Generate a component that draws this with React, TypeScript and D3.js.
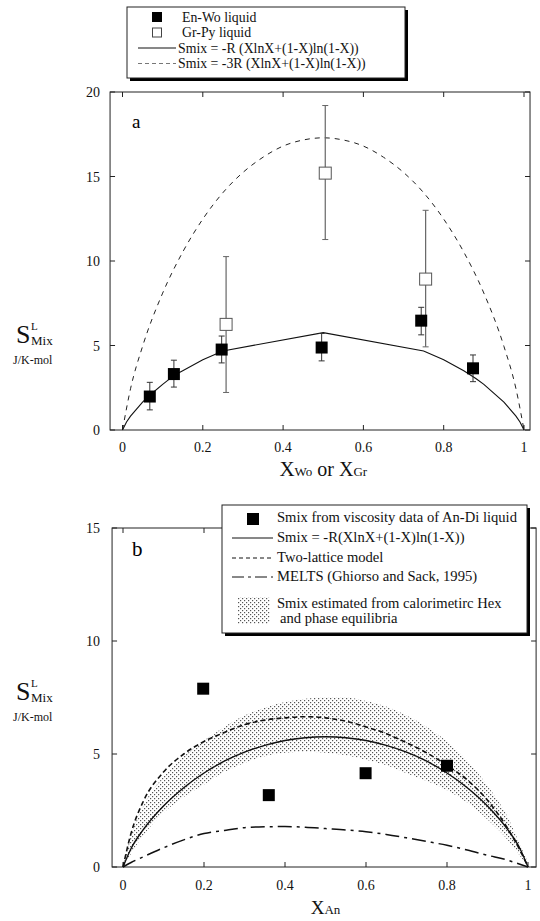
import React from "react";
import * as d3 from "d3";

// ---- panel a data ----
const enWoX = [0.068, 0.128, 0.247, 0.496, 0.744, 0.873];
const enWoY = [1.98, 3.31, 4.76, 4.88, 6.47, 3.65];
const enWoLo = [1.19, 2.54, 3.97, 4.09, 5.63, 2.86];
const enWoHi = [2.82, 4.13, 5.56, 5.71, 7.26, 4.44];

const grPyX = [0.258, 0.505, 0.755];
const grPyY = [6.25, 15.2, 8.93];
const grPyLo = [2.22, 11.27, 4.92];
const grPyHi = [10.26, 19.2, 13.0];

// ideal mixing curve as drawn (coarse polyline in the middle)
const idealAX = [0, 0.01, 0.02, 0.05, 0.07, 0.1, 0.13, 0.15, 0.2, 0.25, 0.5, 0.75, 0.8, 0.85, 0.88, 0.9, 0.95, 0.98, 0.99, 1];
const idealAY = [0, 0.47, 0.82, 1.65, 2.10, 2.70, 3.26, 3.51, 4.16, 4.68, 5.76, 4.68, 4.16, 3.51, 3.05, 2.70, 1.65, 0.82, 0.47, 0];

const threeRX = [0, 0.02, 0.05, 0.1, 0.15, 0.2, 0.25, 0.3, 0.35, 0.4, 0.45, 0.5, 0.55, 0.6, 0.65, 0.7, 0.75, 0.8, 0.85, 0.9, 0.95, 0.98, 1];
const threeRY = [0, 2.44, 4.95, 8.10, 10.53, 12.48, 14.04, 15.24, 16.14, 16.80, 17.16, 17.29, 17.16, 16.80, 16.14, 15.24, 14.04, 12.48, 10.53, 8.10, 4.95, 2.44, 0];

// ---- panel b data ----
const anDiX = [0.198, 0.36, 0.599, 0.8];
const anDiY = [7.89, 3.18, 4.15, 4.48];

const curveBX = [0, 0.02, 0.05, 0.1, 0.15, 0.2, 0.25, 0.3, 0.35, 0.4, 0.45, 0.5, 0.55, 0.6, 0.65, 0.7, 0.75, 0.8, 0.85, 0.9, 0.95, 0.98, 1];
const idealBY = [0, 0.82, 1.65, 2.70, 3.51, 4.16, 4.68, 5.08, 5.38, 5.60, 5.72, 5.76, 5.72, 5.60, 5.38, 5.08, 4.68, 4.16, 3.51, 2.70, 1.65, 0.82, 0];
const latticeY = [0, 1.5, 2.9, 4.2, 5.0, 5.55, 5.95, 6.3, 6.5, 6.6, 6.65, 6.6, 6.45, 6.2, 5.9, 5.5, 5.05, 4.5, 3.85, 2.95, 1.7, 0.75, 0];
const meltsY = [0, 0.2, 0.45, 0.85, 1.2, 1.48, 1.62, 1.74, 1.78, 1.79, 1.76, 1.7, 1.64, 1.56, 1.44, 1.29, 1.13, 0.96, 0.75, 0.52, 0.3, 0.12, 0];
const bandHi = [0, 1.4, 2.7, 4.0, 4.9, 5.6, 6.2, 6.7, 7.05, 7.3, 7.45, 7.5, 7.5, 7.35, 7.1, 6.7, 6.2, 5.55, 4.7, 3.6, 2.2, 1.0, 0.2];
const bandLo = [0, 0.6, 1.4, 2.4, 3.1, 3.65, 4.2, 4.6, 4.9, 5.05, 5.1, 5.05, 4.95, 4.75, 4.5, 4.15, 3.8, 3.4, 2.85, 2.1, 1.2, 0.5, 0];

const xTicks = [0, 0.2, 0.4, 0.6, 0.8, 1];
const yTicksA = [0, 5, 10, 15, 20];
const yTicksB = [0, 5, 10, 15];

const FONT = "Liberation Serif, Times New Roman, serif";

const xA = d3.scaleLinear().domain([0, 1]).range([122.5, 524]);
const yA = d3.scaleLinear().domain([0, 20]).range([430, 92]);
const xB = d3.scaleLinear().domain([0, 1]).range([123, 528]);
const yB = d3.scaleLinear().domain([0, 15]).range([867, 528]);

const Frame = ({ x, y, x0, x1, ticksY }: any) => {
  const L = x(x0), R = x(x1), T = y(y.domain()[1]), B = y(0);
  const tl = 5;
  return (
    <g stroke="#222" strokeWidth={1} fill="none">
      <rect x={L} y={T} width={R - L} height={B - T} />
      {xTicks.map((t) => (
        <g key={"x" + t}>
          <line x1={x(t)} x2={x(t)} y1={B} y2={B - tl} />
          <line x1={x(t)} x2={x(t)} y1={T} y2={T + tl} />
        </g>
      ))}
      {ticksY.map((t: number) => (
        <g key={"y" + t}>
          <line x1={L} x2={L + tl} y1={y(t)} y2={y(t)} />
          <line x1={R} x2={R - tl} y1={y(t)} y2={y(t)} />
        </g>
      ))}
    </g>
  );
};

const TickLabels = ({ x, y, ticksY, xBase }: any) => (
  <g fontSize={14} fill="#111">
    {xTicks.map((t) => (
      <text key={"xl" + t} x={x(t)} y={xBase} textAnchor="middle">{String(t)}</text>
    ))}
    {ticksY.map((t: number) => (
      <text key={"yl" + t} x={100} y={y(t) + 5} textAnchor="end">{String(t)}</text>
    ))}
  </g>
);

const YLabel = ({ base }: { base: number }) => (
  <g fill="#111">
    <text x={16} y={base} fontSize={26}>S</text>
    <text x={31} y={base - 13} fontSize={11}>L</text>
    <text x={31} y={base + 1.5} fontSize={13}>Mix</text>
    <text x={13} y={base + 21} fontSize={12}>J/K-mol</text>
  </g>
);

export default function App() {
  const pts = (xs: number[], ys: number[]) => xs.map((v, i) => [v, ys[i]] as [number, number]);

  const lineA = d3.line<[number, number]>().x((d) => xA(d[0])).y((d) => yA(d[1]));
  const smoothA = d3.line<[number, number]>().x((d) => xA(d[0])).y((d) => yA(d[1])).curve(d3.curveMonotoneX);
  const smoothB = d3.line<[number, number]>().x((d) => xB(d[0])).y((d) => yB(d[1])).curve(d3.curveMonotoneX);
  const band = d3
    .area<number>()
    .x((d, i) => xB(curveBX[i]))
    .y0((d, i) => yB(bandLo[i]))
    .y1((d) => yB(d))
    .curve(d3.curveMonotoneX);

  const sq = 12;
  const sqB = 12;

  return (
    <svg
      width={540}
      height={921}
      fontFamily={FONT}
      style={{ position: "absolute", left: 0, top: 0, background: "#fff", fontFamily: FONT }}
    >
      <defs>
        <pattern id="stip" width={4} height={4} patternUnits="userSpaceOnUse">
          <rect x={0} y={0} width={1.2} height={1.2} fill="#555" />
          <rect x={2} y={2} width={1.2} height={1.2} fill="#555" />
        </pattern>
      </defs>

      {/* ================= PANEL A ================= */}
      <Frame x={xA} y={yA} x0={-0.031} x1={1.015} ticksY={yTicksA} />
      <TickLabels x={xA} y={yA} ticksY={yTicksA} xBase={452} />
      <text x={132} y={128} fontSize={19}>a</text>

      <path d={smoothA(pts(threeRX, threeRY)) || ""} fill="none" stroke="#222" strokeWidth={1} strokeDasharray="5,5" />
      <path d={lineA(pts(idealAX, idealAY)) || ""} fill="none" stroke="#111" strokeWidth={1.1} />

      {grPyX.map((v, i) => (
        <g key={"gp" + i}>
          <line x1={xA(v)} x2={xA(v)} y1={yA(grPyLo[i])} y2={yA(grPyHi[i])} stroke="#666" strokeWidth={1.2} />
          <line x1={xA(v) - 3} x2={xA(v) + 3} y1={yA(grPyLo[i])} y2={yA(grPyLo[i])} stroke="#666" />
          <line x1={xA(v) - 3} x2={xA(v) + 3} y1={yA(grPyHi[i])} y2={yA(grPyHi[i])} stroke="#666" />
          <rect x={xA(v) - sq / 2} y={yA(grPyY[i]) - sq / 2} width={sq} height={sq} fill="#fff" stroke="#555" strokeWidth={1} />
        </g>
      ))}
      {enWoX.map((v, i) => (
        <g key={"ew" + i}>
          <line x1={xA(v)} x2={xA(v)} y1={yA(enWoLo[i])} y2={yA(enWoHi[i])} stroke="#333" />
          <line x1={xA(v) - 3} x2={xA(v) + 3} y1={yA(enWoLo[i])} y2={yA(enWoLo[i])} stroke="#333" />
          <line x1={xA(v) - 3} x2={xA(v) + 3} y1={yA(enWoHi[i])} y2={yA(enWoHi[i])} stroke="#333" />
          <rect x={xA(v) - sq / 2} y={yA(enWoY[i]) - sq / 2} width={sq} height={sq} fill="#000" />
        </g>
      ))}

      <YLabel base={343} />
      <text x={xA(0.5)} y={476} textAnchor="middle" fill="#111">
        <tspan fontSize={21}>X</tspan>
        <tspan fontSize={13}>Wo</tspan>
        <tspan fontSize={20}> or X</tspan>
        <tspan fontSize={13}>Gr</tspan>
      </text>

      {/* legend a */}
      <rect x={130} y={10} width={278} height={71} fill="#000" />
      <rect x={127} y={7} width={278} height={71} fill="#fff" stroke="#222" strokeWidth={1} />
      <rect x={152} y={12} width={10} height={10} fill="#000" />
      <rect x={152.5} y={28} width={9} height={9} fill="#fff" stroke="#444" />
      <line x1={138} x2={176} y1={48} y2={48} stroke="#111" />
      <line x1={138} x2={176} y1={63.5} y2={63.5} stroke="#777" strokeDasharray="4,3" />
      <g fontSize={13.8} fill="#111">
        <text x={182} y={21.5}>En-Wo liquid</text>
        <text x={182} y={37}>Gr-Py liquid</text>
        <text x={178} y={52.5}>Smix = -R (XlnX+(1-X)ln(1-X))</text>
        <text x={178} y={68}>Smix = -3R (XlnX+(1-X)ln(1-X))</text>
      </g>

      {/* ================= PANEL B ================= */}
      <path d={band(bandHi) || ""} fill="url(#stip)" stroke="none" />
      <Frame x={xB} y={yB} x0={-0.027} x1={1.02} ticksY={yTicksB} />
      <TickLabels x={xB} y={yB} ticksY={yTicksB} xBase={890} />
      <text x={132} y={556} fontSize={21}>b</text>

      <path d={smoothB(pts(curveBX, meltsY)) || ""} fill="none" stroke="#111" strokeWidth={1.5} strokeDasharray="14,5,3,5" />
      <path d={smoothB(pts(curveBX, latticeY)) || ""} fill="none" stroke="#111" strokeWidth={1.6} strokeDasharray="5,3" />
      <path d={smoothB(pts(curveBX, idealBY)) || ""} fill="none" stroke="#111" strokeWidth={1.4} />
      {anDiX.map((v, i) => (
        <rect key={"ad" + i} x={xB(v) - sqB / 2} y={yB(anDiY[i]) - sqB / 2} width={sqB} height={sqB} fill="#000" />
      ))}

      <YLabel base={700} />
      <text x={xB(0.5)} y={914} textAnchor="middle" fill="#111">
        <tspan fontSize={19}>X</tspan>
        <tspan fontSize={13}>An</tspan>
      </text>

      {/* legend b */}
      <rect x={225} y={508} width={305} height={128} fill="#000" />
      <rect x={222} y={505} width={305} height={128} fill="#fff" stroke="#222" strokeWidth={1} />
      <rect x={247} y={513} width={12} height={12} fill="#000" />
      <line x1={232} x2={273} y1={538} y2={538} stroke="#111" />
      <line x1={232} x2={273} y1={558} y2={558} stroke="#111" strokeDasharray="4,3" />
      <line x1={232} x2={273} y1={577} y2={577} stroke="#111" strokeDasharray="12,4,3,4" />
      <rect x={238} y={597} width={32} height={27} fill="url(#stip)" />
      <g fontSize={14.6} fill="#111">
        <text x={277} y={522}>Smix from viscosity data of An-Di liquid</text>
        <text x={277} y={542}>Smix = -R(XlnX+(1-X)ln(1-X))</text>
        <text x={277} y={562}>Two-lattice model</text>
        <text x={277} y={581}>MELTS (Ghiorso and Sack, 1995)</text>
        <text x={277} y={608}>Smix estimated from calorimetirc Hex</text>
        <text x={280} y={623}>and phase equilibria</text>
      </g>
    </svg>
  );
}
